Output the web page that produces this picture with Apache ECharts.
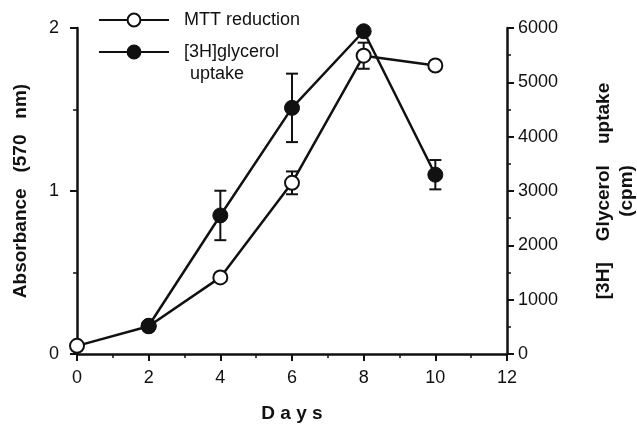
<!DOCTYPE html>
<html>
<head>
<meta charset="utf-8">
<script src="https://cdn.jsdelivr.net/npm/echarts@6/dist/echarts.min.js"></script>
<style>
  html, body { margin: 0; padding: 0; background: #fff; }
  #chart { width: 637px; height: 429px; }
</style>
</head>
<body>
<div id="chart"></div>
<script>
// days of culture
const days = [0, 2, 4, 6, 8, 10]
// MTT reduction, absorbance at 570 nm (left axis)
const mtt = [0.05, 0.17, 0.47, 1.05, 1.83, 1.77]
const mttErr = [0, 0, 0, 0.07, 0.08, 0]
// [3H]glycerol uptake, cpm (right axis)
const glyDays = [2, 4, 6, 8, 10]
const glycerol = [520, 2550, 4530, 5940, 3300]
const glyErr = [0, 455, 630, 0, 270]

const font = 'Liberation Sans, Arial, sans-serif'
const ink = '#111'

function errorBars(xs, ys, errs, yIndex) {
  return {
    type: 'custom',
    yAxisIndex: yIndex,
    z: 1,
    silent: true,
    data: xs.map((x, i) => [x, ys[i] - errs[i], ys[i] + errs[i]]).filter((d, i) => errs[i] > 0),
    renderItem: function (params, api) {
      const lo = api.coord([api.value(0), api.value(1)])
      const hi = api.coord([api.value(0), api.value(2)])
      const w = 6
      const style = { stroke: ink, lineWidth: 2 }
      return {
        type: 'group',
        children: [
          { type: 'line', shape: { x1: lo[0], y1: lo[1], x2: hi[0], y2: hi[1] }, style },
          { type: 'line', shape: { x1: lo[0] - w, y1: lo[1], x2: lo[0] + w, y2: lo[1] }, style },
          { type: 'line', shape: { x1: hi[0] - w, y1: hi[1], x2: hi[0] + w, y2: hi[1] }, style },
        ],
      }
    },
  }
}

const tick = { show: true, inside: false, length: 7, lineStyle: { color: ink, width: 2 } }
const minor = { show: true, splitNumber: 2, length: 4, lineStyle: { color: ink, width: 1.5 } }
const axisLine = { show: true, lineStyle: { color: ink, width: 2.5 } }
const label = { color: ink, fontFamily: font, fontSize: 18 }
const title = { color: ink, fontFamily: font, fontSize: 19, fontWeight: 'bold' }

let myChart = echarts.init(document.getElementById('chart'))
myChart.setOption({
  animation: false,
  backgroundColor: '#fff',
  grid: { left: 77, right: 130, top: 28, bottom: 75, outerBoundsMode: 'none', containLabel: false },
  legend: {
    orient: 'vertical',
    left: 93,
    top: 6,
    itemWidth: 70,
    itemHeight: 16,
    itemGap: 14,
    data: ['MTT reduction', '[3H]glycerol uptake'],
    formatter: function (name) {
      return name === 'MTT reduction' ? name : '[3H]glycerol'
    },
    textStyle: { color: ink, fontFamily: font, fontSize: 18, padding: [0, 0, 0, 10] },
  },
  graphic: [
    {
      type: 'text',
      left: 190,
      top: 65,
      style: { text: 'uptake', fill: ink, font: '18px ' + font },
    },
  ],
  xAxis: {
    type: 'value',
    min: 0,
    max: 12,
    interval: 2,
    name: 'D a y s',
    nameLocation: 'middle',
    nameGap: 50,
    nameTextStyle: title,
    axisLine: axisLine,
    axisTick: tick,
    minorTick: minor,
    axisLabel: { ...label, margin: 15 },
    splitLine: { show: false },
  },
  yAxis: [
    {
      type: 'value',
      min: 0,
      max: 2,
      interval: 1,
      name: 'Absorbance   (570   nm)',
      nameLocation: 'middle',
      nameGap: 47,
      nameTextStyle: title,
      axisLine: axisLine,
      axisTick: tick,
      minorTick: minor,
      axisLabel: { ...label, margin: 18 },
      splitLine: { show: false },
    },
    {
      type: 'value',
      min: 0,
      max: 6000,
      interval: 1000,
      position: 'right',
      name: '[3H]    Glycerol    uptake\n(cpm)',
      nameLocation: 'middle',
      nameGap: 85,
      nameRotate: 90,
      nameTextStyle: { ...title, lineHeight: 23, align: 'center' },
      axisLine: axisLine,
      axisTick: tick,
      minorTick: minor,
      axisLabel: { ...label, margin: 11, formatter: (v) => String(v) },
      splitLine: { show: false },
    },
  ],
  series: [
    errorBars(days, mtt, mttErr, 0),
    errorBars(glyDays, glycerol, glyErr, 1),
    {
      name: 'MTT reduction',
      type: 'line',
      yAxisIndex: 0,
      z: 2,
      data: days.map((d, i) => [d, mtt[i]]),
      symbol: 'circle',
      symbolSize: 14,
      showAllSymbol: true,
      lineStyle: { color: ink, width: 2.5 },
      itemStyle: { color: '#fff', borderColor: ink, borderWidth: 2 },
    },
    {
      name: '[3H]glycerol uptake',
      type: 'line',
      yAxisIndex: 1,
      z: 3,
      data: glyDays.map((d, i) => [d, glycerol[i]]),
      symbol: 'circle',
      symbolSize: 15,
      showAllSymbol: true,
      lineStyle: { color: ink, width: 2.5 },
      itemStyle: { color: ink, borderColor: ink, borderWidth: 1 },
    },
  ],
})
</script>
</body>
</html>
